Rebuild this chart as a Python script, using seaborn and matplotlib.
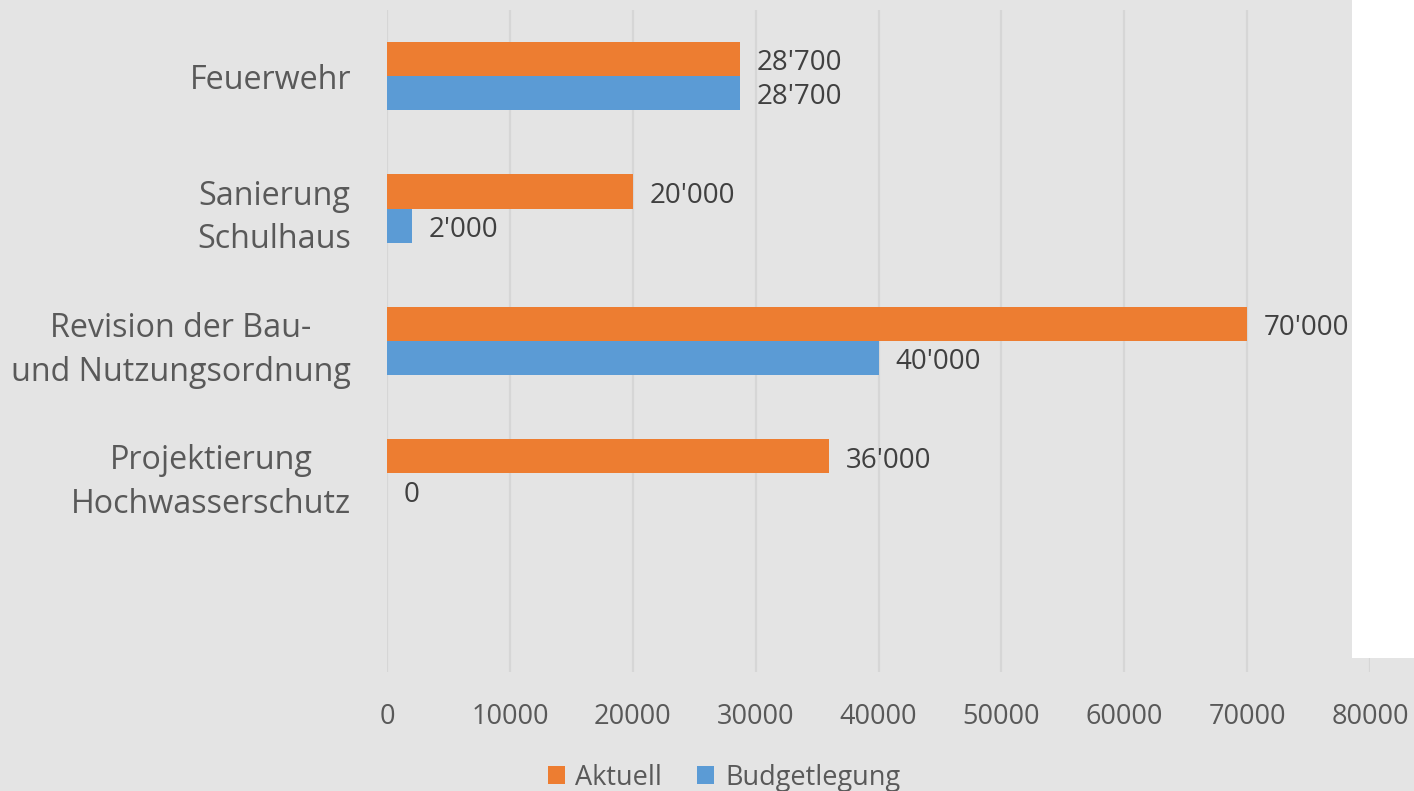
import pandas as pd
import matplotlib.pyplot as plt
import seaborn as sns
from matplotlib.patches import Rectangle

# chart values
categories = ["Feuerwehr", "Sanierung\nSchulhaus", "Revision der Bau-\nund Nutzungsordnung",
              "Projektierung\nHochwasserschutz"]
aktuell = [28700, 20000, 70000, 36000]
budget = [28700, 2000, 40000, 0]
series = ["Aktuell", "Budgetlegung"]
xticks = [0, 10000, 20000, 30000, 40000, 50000, 60000, 70000, 80000]

df = pd.DataFrame({
    "Projekt": categories * 2,
    "Betrag": aktuell + budget,
    "Serie": [series[0]] * len(categories) + [series[1]] * len(categories),
})

sns.set_theme(style="white")
plt.rcParams["font.family"] = ["Open Sans", "DejaVu Sans"]

bg = "#e4e4e4"
fig = plt.figure(figsize=(14.14, 7.91), dpi=100, facecolor=bg)
# white strip on the right edge of the original picture
fig.patches.append(Rectangle((0.956, 0.168), 0.05, 0.84, transform=fig.transFigure,
                             facecolor="white", edgecolor="none", zorder=0))
ax = fig.add_axes([0.2737, 0.1504, 0.6952, 0.837])
ax.set_facecolor("none")

sns.barplot(data=df, y="Projekt", x="Betrag", hue="Serie", hue_order=series,
            palette=["#ED7D31", "#5B9BD5"], orient="h", width=0.515,
            saturation=1, linewidth=0, ax=ax, legend=True)

ax.set_xlim(0, 80000)
ax.set_ylim(4.5, -0.5)
ax.set_xticks(xticks)
ax.set_xticklabels([str(t) for t in xticks])
ax.xaxis.grid(True, color="#d6d6d6", linewidth=1.6)
ax.set_axisbelow(True)
for s in ax.spines.values():
    s.set_visible(False)
ax.tick_params(axis="both", length=0, colors="#595959")
ax.tick_params(axis="x", labelsize=19.5, pad=22)
ax.tick_params(axis="y", labelsize=23.2, pad=26)
for lbl in ax.get_yticklabels():
    lbl.set_multialignment("center")
    lbl.set_linespacing(1.42)
ax.set_xlabel("")
ax.set_ylabel("")

def fmt(v):
    return f"{v:,}".replace(",", "'")

for cont in ax.containers:
    txts = ax.bar_label(cont, labels=[fmt(int(v)) for v in cont.datavalues],
                        padding=12, fontsize=20, color="#404040")
    for t in txts:
        # nudge slightly downward like the original
        t.xyann = (t.xyann[0], t.xyann[1] - 3)

handles, labels = ax.get_legend_handles_labels()
ax.get_legend().remove()
fig.legend(handles, labels, loc="center", bbox_to_anchor=(0.512, 0.017), ncol=2,
           frameon=False, fontsize=19.5, labelcolor="#595959", handlelength=0.62,
           handleheight=0.62, handletextpad=0.4, columnspacing=1.3, borderpad=0)

fig.savefig("out.png", dpi=100, facecolor=bg)
